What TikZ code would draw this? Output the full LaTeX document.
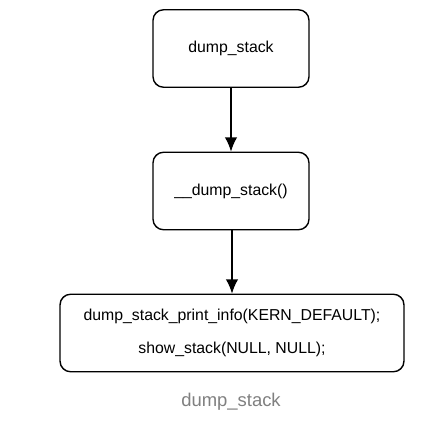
\documentclass[tikz,border=0pt]{standalone}
\usepackage{fontspec}
\setmainfont{Liberation Sans}
\usetikzlibrary{arrows.meta}

\begin{document}
\begin{tikzpicture}[x=0.02cm,y=-0.02cm,
  box/.style={draw,thick,rounded corners=6pt,minimum width=3.12cm,minimum height=1.55cm,font=\fontsize{9}{11}\selectfont},
  wide/.style={box,minimum width=6.88cm},
  flow/.style={-{Latex[length=8pt,width=7pt]},thick}]
  % Canvas
  \useasboundingbox (0,0) rectangle (444,426);
  
  % Boxes
  \node[box] (dump) at (231,48.5) {dump\_stack};
  \node[box] (inner) at (231,191) {\_\_dump\_stack()};
  \node[wide,align=center] (body) at (232,333)
    {dump\_stack\_print\_info(KERN\_DEFAULT);\\[8pt]show\_stack(NULL, NULL);};
  
  % Arrows
  \draw[flow] (dump) -- (inner);
  \draw[flow] (inner.south -| body.north) -- (body.north);
  
  % Caption
  \node[text=gray,font=\fontsize{10.5}{12}\selectfont] (caption) at (231,402) {dump\_stack};
  
\end{tikzpicture}
\end{document}
